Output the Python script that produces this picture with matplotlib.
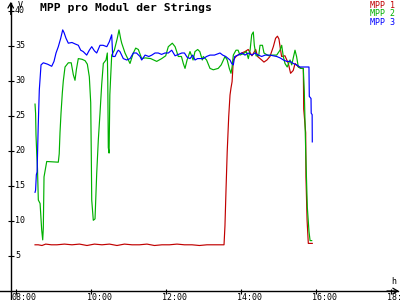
import matplotlib
matplotlib.use("Agg")
import matplotlib.pyplot as plt
from matplotlib.transforms import ScaledTranslation

# ---------- data (hours, volts) ----------
t_mpp1 = [8.515, 8.6, 8.7, 8.8, 8.95, 9.1, 9.3, 9.5, 9.7, 9.9, 10.1, 10.3, 10.5, 10.7, 10.9,
          11.1, 11.3, 11.5, 11.7, 11.9, 12.1, 12.3, 12.5, 12.7, 12.9, 13.1, 13.3, 13.555,
          13.58, 13.608, 13.64, 13.68, 13.715, 13.741, 13.77, 13.803, 13.875, 13.95, 14.027,
          14.115, 14.2, 14.3, 14.4, 14.45, 14.56, 14.62, 14.7, 14.78, 14.87, 14.93, 14.98,
          15.02, 15.05, 15.09, 15.18, 15.27, 15.33, 15.4, 15.45, 15.54, 15.627, 15.67, 15.68,
          15.733, 15.74, 15.77, 15.803, 15.909]
u_mpp1 = [6.6, 6.6, 6.5, 6.7, 6.6, 6.6, 6.7, 6.6, 6.7, 6.5, 6.7, 6.6, 6.7, 6.5, 6.7,
          6.6, 6.6, 6.7, 6.5, 6.6, 6.6, 6.7, 6.6, 6.6, 6.5, 6.6, 6.6, 6.6,
          9.3, 14.4, 19.9, 24.9, 28.0, 29.0, 29.9, 33.0, 33.5, 33.8, 34.0,
          34.2, 34.5, 33.6, 34.5, 33.5, 33.0, 32.7, 33.0, 33.5, 34.9, 36.1, 36.4,
          36.0, 34.9, 33.5, 33.6, 32.5, 31.1, 31.5, 32.5, 32.0, 31.8, 31.8, 26.0,
          22.6, 16.3, 10.1, 6.8, 6.8]

t_mpp2 = [8.515, 8.53, 8.541, 8.56, 8.58, 8.603, 8.65, 8.693, 8.72, 8.736, 8.755, 8.827,
          9.136, 9.16, 9.181, 9.208, 9.243, 9.269, 9.315, 9.403, 9.48, 9.536, 9.581, 9.62,
          9.669, 9.77, 9.85, 9.91, 9.963, 10.0, 10.015, 10.027, 10.069, 10.115, 10.16,
          10.203, 10.248, 10.293, 10.336, 10.408, 10.443, 10.455, 10.469, 10.49, 10.51,
          10.528, 10.56, 10.63, 10.709, 10.755, 10.8, 10.827, 10.915, 11.048, 11.136, 11.2,
          11.27, 11.36, 11.45, 11.6, 11.76, 11.893, 12.0, 12.069, 12.176, 12.25, 12.336,
          12.42, 12.469, 12.515, 12.57, 12.648, 12.73, 12.78, 12.853, 12.91, 12.976, 13.003,
          13.09, 13.181, 13.269, 13.4, 13.48, 13.581, 13.64, 13.696, 13.741, 13.77, 13.803,
          13.875, 13.93, 13.98, 14.07, 14.15, 14.203, 14.25, 14.293, 14.336, 14.363, 14.41,
          14.48, 14.515, 14.58, 14.621, 14.68, 14.75, 14.83, 14.9, 14.96, 15.048, 15.093,
          15.136, 15.181, 15.24, 15.315, 15.36, 15.448, 15.49, 15.536, 15.6, 15.669, 15.696,
          15.733, 15.776, 15.821, 15.85, 15.893]
u_mpp2 = [26.7, 25.4, 22.3, 19.7, 17.6, 13.0, 12.5, 8.7, 7.3, 9.0, 16.3, 18.5,
          18.4, 19.6, 22.6, 25.4, 28.3, 30.0, 32.0, 32.6, 32.6, 30.9, 30.1, 31.7,
          33.2, 33.1, 32.9, 32.4, 30.6, 26.9, 19.7, 13.0, 10.1, 10.3, 16.8,
          21.6, 25.4, 29.5, 32.5, 33.0, 34.0, 30.0, 20.5, 19.7, 28.0,
          30.1, 33.7, 34.4, 36.1, 37.3, 36.0, 35.4, 34.0, 32.5, 34.0, 34.7,
          34.5, 33.2, 33.3, 33.2, 32.8, 33.2, 33.6, 34.9, 35.4, 34.9, 33.5,
          33.5, 32.5, 31.8, 33.0, 34.2, 33.0, 34.2, 34.5, 34.2, 33.0, 33.5,
          33.0, 31.8, 31.6, 31.8, 32.3, 33.5, 33.0, 31.8, 31.1, 32.0, 33.7,
          34.4, 34.4, 33.7, 33.9, 34.2, 33.2, 34.4, 36.6, 37.0, 35.1, 33.6,
          33.6, 35.1, 35.1, 34.0, 33.8, 33.6, 33.7, 33.7, 33.7, 34.4, 35.1,
          33.5, 32.5, 32.0, 33.0, 32.3, 34.4, 33.5, 32.0, 31.8, 31.8, 28.5,
          20.0, 12.0, 8.5, 7.2, 7.2]

t_mpp3 = [8.515, 8.53, 8.55, 8.57, 8.6, 8.629, 8.675, 8.736, 8.85, 8.96, 9.021, 9.075,
          9.136, 9.2, 9.253, 9.29, 9.341, 9.403, 9.5, 9.581, 9.67, 9.733, 9.8, 9.893,
          9.963, 10.027, 10.1, 10.16, 10.248, 10.33, 10.43, 10.496, 10.56, 10.587, 10.648,
          10.709, 10.736, 10.78, 10.869, 10.96, 11.05, 11.136, 11.22, 11.315, 11.36, 11.45,
          11.55, 11.63, 11.715, 11.8, 11.89, 11.98, 12.07, 12.16, 12.25, 12.34, 12.43, 12.5,
          12.57, 12.648, 12.72, 12.781, 12.85, 12.915, 13.003, 13.09, 13.181, 13.3, 13.448,
          13.52, 13.6, 13.715, 13.76, 13.803, 13.84, 13.93, 14.027, 14.115, 14.2, 14.3,
          14.38, 14.47, 14.56, 14.65, 14.78, 14.87, 14.96, 15.05, 15.14, 15.227, 15.32,
          15.403, 15.49, 15.581, 15.82, 15.829, 15.875, 15.88, 15.905, 15.909]
u_mpp3 = [14.1, 14.4, 16.6, 17.0, 23.5, 28.7, 32.3, 32.6, 32.4, 32.1, 32.8, 34.0,
          34.9, 36.1, 37.3, 36.9, 36.1, 35.4, 35.5, 35.3, 35.1, 34.4, 34.2, 33.7,
          34.4, 34.9, 34.3, 34.0, 35.1, 35.1, 34.9, 35.6, 36.6, 33.5, 33.5,
          34.2, 34.4, 34.2, 33.2, 33.0, 33.2, 34.0, 34.0, 33.5, 33.0, 33.7,
          33.5, 33.7, 34.0, 34.0, 33.8, 34.0, 34.0, 34.4, 33.6, 33.8, 34.0, 34.0,
          33.4, 33.2, 33.7, 33.0, 33.2, 33.2, 33.2, 33.5, 33.7, 33.7, 34.0,
          33.7, 33.5, 33.0, 32.5, 32.3, 33.5, 33.7, 34.0, 33.7, 34.0, 33.7,
          34.0, 33.7, 33.5, 33.7, 33.7, 33.6, 33.5, 33.3, 33.0, 32.8, 32.8,
          32.5, 32.3, 32.0, 32.0, 27.8, 27.5, 25.4, 25.2, 21.3]

hour_ticks = [8, 10, 12, 14, 16, 18]
hour_labels = ["08:00", "10:00", "12:00", "14:00", "16:00", "18:00"]
volt_ticks = [5, 10, 15, 20, 25, 30, 35, 40]

RED = "#c00000"
GREEN = "#00b000"
BLUE = "#0000ff"
MONO = "DejaVu Sans Mono"

fig = plt.figure(figsize=(4, 3), dpi=100)
ax = fig.add_axes([0, 0, 1, 1])
ax.set_xlim(7.581, 18.248)
ax.set_ylim(-1.286, 41.57)

ax.plot(t_mpp1, u_mpp1, color=RED, lw=0.85)
ax.plot(t_mpp2, u_mpp2, color=GREEN, lw=0.85)
ax.plot(t_mpp3, u_mpp3, color=BLUE, lw=0.85)

# axes crossing like the original
for s in ["top", "right"]:
    ax.spines[s].set_visible(False)
ax.spines["left"].set_position(("data", 7.867))
ax.spines["bottom"].set_position(("data", 0))
ax.spines["left"].set_bounds(-1.286, 41.2)
ax.spines["bottom"].set_bounds(7.581, 18.2)
ax.spines["left"].set_linewidth(1)
ax.spines["bottom"].set_linewidth(1)

ax.annotate("", xy=(7.867, 41.3), xytext=(7.867, 39.5),
            arrowprops=dict(arrowstyle="->,head_length=0.35,head_width=0.2", lw=0.9,
                            color="black", shrinkA=0, shrinkB=0))
ax.annotate("", xy=(18.22, 0), xytext=(17.9, 0),
            arrowprops=dict(arrowstyle="->,head_length=0.35,head_width=0.2", lw=0.9,
                            color="black", shrinkA=0, shrinkB=0))

ax.set_xticks(hour_ticks, hour_labels, ha="left", family=MONO, fontsize=6)
ax.set_yticks(volt_ticks, [str(v) for v in volt_ticks], ha="left", va="center",
              family=MONO, fontsize=6)
ax.tick_params(axis="x", direction="inout", length=3.6, width=0.8, pad=-0.6)
ax.tick_params(axis="y", direction="inout", length=5, width=0.8, pad=-5.6)
for lab in ax.get_xticklabels():
    lab.set_transform(lab.get_transform() + ScaledTranslation(-4 / 100, 0, fig.dpi_scale_trans))

ax.text(8.05, 40.8, "V", family=MONO, fontsize=6, ha="left", va="center")
ax.text(18.02, 1.3, "h", family=MONO, fontsize=6, ha="left", va="center")

fig.text(0.1, 0.972, "MPP pro Modul der Strings", family=MONO, fontweight="bold",
         fontsize=8.2, ha="left", va="center")
for i, (name, col) in enumerate([("MPP 1", RED), ("MPP 2", GREEN), ("MPP 3", BLUE)]):
    fig.text(0.987, 0.982 - i * 0.028, name, family=MONO, fontsize=6, color=col,
             ha="right", va="center")

fig.savefig("out.png", dpi=100)
